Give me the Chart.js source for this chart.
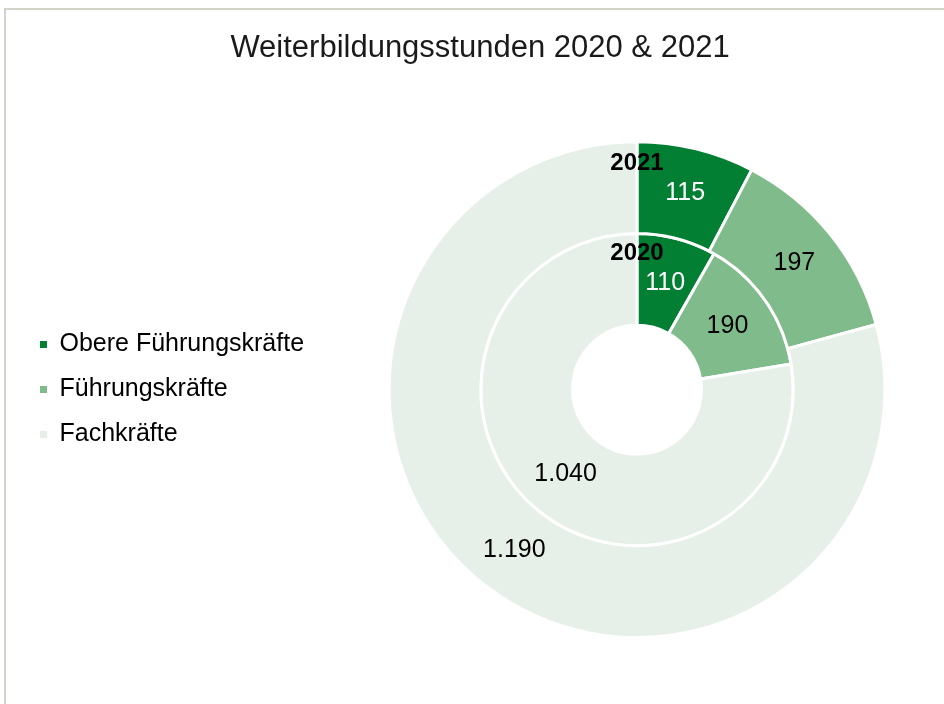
<!DOCTYPE html>
<html>
<head>
<meta charset="utf-8">
<script src="https://cdn.jsdelivr.net/npm/chart.js@4"></script>
<style>
  html, body { margin: 0; padding: 0; background: #fff; overflow: hidden; }
  .frame { position: absolute; left: 4px; top: 8px; width: 1000px; height: 1000px; border: 2px solid #d3d3ca; }
  .wrap { position: absolute; left: 0; top: 0; width: 944px; height: 704px; }
</style>
</head>
<body>
<div class="frame"></div>
<div class="wrap"><canvas id="hoursChart"></canvas></div>
<script>
// Weiterbildungsstunden je Gruppe, außen 2021, innen 2020
const categories = ['Obere Führungskräfte', 'Führungskräfte', 'Fachkräfte'];
const years = ['2021', '2020'];
const hours2021 = [115, 197, 1190];
const hours2020 = [110, 190, 1040];
const colors = ['#037f33', '#7fbb8b', '#e7f0e8'];

const FONT = '"Liberation Sans", Arial, sans-serif';

// German thousands separator: 1190 -> 1.190
function fmt(v) {
    return String(v).replace(/\B(?=(\d{3})+(?!\d))/g, '.');
}

// widen the legend box so the doughnut sits right of the title like in the original
const wideLegend = {
    id: 'wideLegend',
    beforeLayout(chart) {
        if (chart.legend._wide) return;
        const fit = chart.legend.fit;
        chart.legend.fit = function () {
            fit.call(this);
            this.width = 314;
        };
        chart.legend._wide = true;
    }
};

// values in the middle of each slice, series name above the first slice
const sliceLabels = {
    id: 'sliceLabels',
    afterDatasetsDraw(chart) {
        const ctx = chart.ctx;
        ctx.save();
        ctx.textAlign = 'center';
        ctx.textBaseline = 'middle';
        chart.data.datasets.forEach((ds, i) => {
            const arcs = chart.getDatasetMeta(i).data;
            ctx.font = '25px ' + FONT;
            arcs.forEach((arc, j) => {
                const p = arc.tooltipPosition();
                ctx.fillStyle = j === 0 ? '#ffffff' : '#000000';
                ctx.fillText(fmt(ds.data[j]), p.x, p.y);
            });
            const first = arcs[0].tooltipPosition();
            ctx.font = 'bold 24px ' + FONT;
            ctx.fillStyle = '#000000';
            ctx.fillText(ds.label, arcs[0].x, first.y - 30);
        });
        ctx.restore();
    }
};

new Chart(document.getElementById('hoursChart'), {
    type: 'doughnut',
    data: {
        labels: categories,
        datasets: [{
            label: years[0],
            data: hours2021,
            backgroundColor: colors,
            borderColor: '#ffffff',
            borderWidth: 3
        }, {
            label: years[1],
            data: hours2020,
            backgroundColor: colors,
            borderColor: '#ffffff',
            borderWidth: 3
        }]
    },
    options: {
        responsive: true,
        maintainAspectRatio: false,
        animation: false,
        cutout: '26%',
        hoverOffset: 0,
        layout: { padding: { left: 20, right: 4, top: 0, bottom: 65 } },
        plugins: {
            title: {
                display: true,
                text: 'Weiterbildungsstunden 2020 & 2021',
                color: '#1a1a1a',
                font: { family: FONT, size: 31, weight: 'normal' },
                padding: { top: 30, bottom: 73 }
            },
            legend: {
                position: 'left',
                fullSize: false,
                labels: {
                    usePointStyle: true,
                    pointStyle: 'rect',
                    boxWidth: 7,
                    boxHeight: 7,
                    padding: 20,
                    color: '#000000',
                    font: { family: FONT, size: 25 },
                    generateLabels(chart) {
                        return Chart.overrides.doughnut.plugins.legend.labels
                            .generateLabels(chart)
                            .map(item => ({ ...item, lineWidth: 0 }));
                    }
                },
                onClick: null
            },
            tooltip: { enabled: false }
        }
    },
    plugins: [wideLegend, sliceLabels]
});
</script>
</body>
</html>
